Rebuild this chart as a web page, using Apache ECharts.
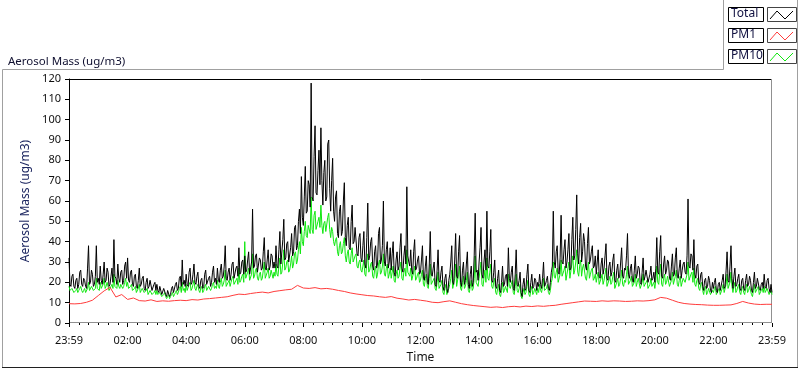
<!DOCTYPE html>
<html>
<head>
<meta charset="utf-8">
<script src="https://cdn.jsdelivr.net/npm/echarts@6/dist/echarts.min.js"></script>
<style>
html,body{margin:0;padding:0;background:#fff;}
#chart{width:800px;height:369px;}
</style>
</head>
<body>
<div id="chart"></div>
<script>
// Time axis: minutes after midnight; Total and PM10 read every 2 minutes (one row = one hour)
const sampleStepMin = 2;
const totalValues = [
32,19,18,23,24,18,17,21,22,17,19,25,26,19,18,22,21,18,17,27,38,19,20,26,24,18,19,23,38,20,
22,19,28,21,19,24,30,20,21,27,25,18,19,23,27,20,41,23,22,19,29,22,20,25,26,19,21,28,30,22,
32,21,20,25,26,19,18,23,24,18,17,21,27,18,19,22,23,17,16,20,22,17,18,21,21,16,16,19,20,16,
19,16,15,18,18,14,14,17,17,14,13,16,16,13,14,17,18,15,15,19,20,16,17,22,23,18,31,19,21,18,
24,19,18,25,27,19,20,24,29,20,19,23,25,18,17,21,22,17,18,24,26,19,19,22,23,18,20,25,28,20,
22,19,27,21,20,26,29,22,23,28,38,22,21,25,27,21,24,29,30,22,22,27,28,23,37,24,25,30,31,24,
33,25,26,31,35,24,24,30,56,27,28,33,34,25,25,32,31,26,27,35,42,27,26,31,36,26,28,34,33,27,
30,27,38,28,27,36,45,29,29,41,51,31,32,39,40,30,30,37,44,33,35,47,48,36,38,50,56,44,72,52,
48,62,77,54,55,70,68,57,118,62,60,82,97,64,63,75,85,68,96,70,58,74,80,60,62,88,90,66,55,70,
81,55,50,62,65,44,42,55,58,43,45,60,69,42,38,48,52,37,36,50,58,39,40,47,47,34,33,42,44,32,
30,38,45,29,27,42,59,31,33,40,42,28,26,35,38,27,29,44,47,29,31,38,60,30,28,36,40,27,30,37,
26,34,40,25,23,31,35,26,28,37,44,27,25,33,38,29,67,33,30,28,36,26,24,35,41,26,27,31,33,24,
25,31,38,22,21,28,33,20,19,29,45,24,23,27,30,19,18,26,36,21,20,25,28,18,16,22,24,17,15,21,
24,30,38,20,19,31,44,23,22,35,43,20,18,26,30,19,21,29,35,19,17,24,28,18,20,33,54,25,26,21,
30,37,47,24,22,30,36,26,55,28,27,35,46,21,20,25,31,18,17,22,26,16,15,20,28,18,19,23,24,18,
37,22,20,25,28,17,16,24,36,19,18,21,25,15,13,19,22,16,17,24,29,16,15,20,24,17,18,22,21,16,
20,18,24,19,17,22,30,18,19,21,23,17,16,20,25,28,55,30,27,35,38,25,24,32,53,30,29,36,41,27,
30,36,44,26,27,41,52,31,33,46,63,34,29,42,49,30,35,44,40,28,26,39,47,29,31,35,38,27,28,33,
24,30,36,23,22,29,32,24,27,33,39,22,21,28,30,23,25,31,34,21,20,26,29,22,23,30,37,23,22,27,
26,33,44,24,22,27,29,21,20,26,33,22,24,28,27,20,19,25,32,21,23,26,26,20,20,24,28,21,22,25,
20,27,42,25,24,35,43,23,22,29,33,24,26,31,30,22,21,28,34,23,24,32,37,23,22,27,31,22,26,29,
30,25,24,33,61,28,27,34,33,26,41,24,22,28,29,20,19,24,25,18,16,21,22,17,18,23,21,16,15,20,
17,20,22,16,15,19,20,16,16,21,24,17,18,26,35,21,20,28,38,22,17,23,27,18,19,22,24,17,16,21,
22,17,16,21,24,18,19,23,21,16,15,20,25,17,18,22,22,17,16,19,20,17,24,18,17,21,22,17,15,19,
15
];
const pm10Values = [
18,16,16,17,17,15,15,16,17,15,16,17,18,16,15,16,17,15,15,17,20,16,16,18,18,16,16,17,22,17,
17,16,20,17,17,19,22,17,18,20,20,16,17,18,19,17,24,18,18,17,21,18,17,19,19,17,18,20,22,18,
20,17,17,18,19,16,16,17,18,15,15,17,19,15,16,17,17,15,15,16,17,14,15,16,16,14,14,15,16,14,
16,14,14,15,15,13,13,14,15,13,12,13,14,12,13,14,15,13,14,15,16,14,15,17,18,15,20,16,17,15,
19,16,16,19,20,16,17,19,21,17,16,18,19,16,15,17,18,15,16,18,19,16,16,18,18,16,17,19,20,17,
18,17,21,18,17,20,22,18,19,21,26,18,18,20,21,18,20,22,23,19,19,21,22,19,27,20,21,23,24,20,
40,22,22,25,27,21,21,24,34,22,23,26,27,22,21,24,25,21,22,26,30,22,22,25,27,22,23,26,26,22,
25,23,29,24,23,28,32,24,25,30,36,26,27,30,31,25,26,29,33,27,29,34,35,29,31,36,40,34,47,40,
38,45,50,43,42,48,48,44,62,46,44,53,55,46,46,50,52,47,58,48,44,49,50,45,45,52,54,46,42,47,
45,40,38,41,42,35,33,38,40,34,35,39,42,33,30,34,36,30,29,34,37,30,30,33,34,28,27,30,31,26,
25,28,31,24,23,30,34,25,26,29,30,23,22,26,28,22,24,29,31,24,25,28,34,24,23,27,29,22,24,27,
22,25,28,21,20,24,26,22,23,27,30,22,21,25,27,23,36,25,24,23,27,21,21,25,28,21,22,24,25,20,
21,24,26,19,18,22,24,18,17,22,29,19,19,21,22,17,16,20,25,17,17,19,21,15,14,17,19,14,14,17,
19,22,26,17,17,22,29,18,18,24,28,17,16,20,23,17,18,21,25,16,15,18,21,16,17,22,33,20,20,18,
22,26,30,19,18,22,26,20,32,22,21,25,29,18,17,20,22,15,14,17,19,14,13,16,20,15,16,18,18,15,
24,18,17,19,21,15,14,18,24,16,15,17,19,13,12,15,17,14,15,18,21,14,13,16,18,14,15,17,17,14,
17,15,19,16,15,18,22,16,16,17,19,15,14,16,20,22,30,23,22,25,27,20,20,24,31,23,23,26,28,21,
24,27,30,22,22,29,33,24,26,30,36,25,23,28,31,23,27,29,29,22,21,26,30,22,24,26,27,21,22,24,
20,23,25,19,19,22,24,19,21,24,27,18,18,21,23,19,20,23,25,17,17,20,22,18,19,22,26,19,18,21,
20,24,28,19,19,21,23,18,18,20,24,18,20,22,22,17,17,20,24,18,19,20,21,17,17,19,22,18,18,20,
17,21,28,20,19,25,29,19,18,22,24,19,20,23,23,18,18,21,25,19,19,23,26,19,18,21,23,18,20,22,
22,20,20,24,30,21,21,24,25,20,27,19,18,21,22,17,16,19,20,16,14,17,18,14,15,17,17,14,14,16,
15,17,18,14,14,16,17,14,14,17,19,15,15,19,24,17,17,20,25,18,15,18,20,15,16,18,19,15,14,17,
18,15,14,17,19,15,16,18,18,14,13,16,19,15,15,17,18,14,14,16,17,15,18,15,15,17,17,14,14,16,
14
];
// PM1 read every 12 minutes
const pm1StepMin = 12;
const pm1Values = [
9.5,9.4,9.6,10.2,11.2,13.5,15.8,17.5,12.8,14.0,
11.6,12.3,11.0,10.8,11.4,10.6,10.9,10.7,11.0,11.2,
11.0,11.5,11.3,11.8,12.0,12.3,12.6,12.9,13.6,14.2,
14.0,14.5,14.9,15.2,14.8,15.5,15.9,16.3,16.6,18.5,
17.2,17.0,17.4,16.8,17.0,16.6,16.0,15.5,14.8,14.3,
13.9,13.5,13.3,12.9,12.6,13.0,12.2,11.8,11.3,11.6,
11.2,10.8,10.2,10.0,10.5,10.9,10.2,9.5,9.0,8.6,
8.3,8.0,7.7,7.9,7.6,8.0,8.2,7.9,8.3,8.1,
8.4,8.2,8.5,8.7,9.2,9.6,10.0,10.4,10.8,10.7,
10.6,10.9,10.7,10.9,10.8,10.6,10.7,10.9,10.8,11.0,
11.4,12.6,12.2,11.2,10.2,9.6,9.3,9.1,9.0,8.8,
8.7,8.7,8.8,8.9,9.6,10.6,9.8,9.3,9.1,9.2,
9.2
];
const xTickLabels = ['23:59','02:00','04:00','06:00','08:00','10:00','12:00','14:00','16:00','18:00','20:00','22:00','23:59'];
const legendNames = ['Total','PM1','PM10'];
const seriesColors = ['#000000','#ff3c3c','#10e810'];

const toPairs = (vals, step) => vals.map((v,i) => [i*step, v]);

const chart = echarts.init(document.getElementById('chart'), null, {renderer:'canvas'});
const font = 'Noto Sans';

const legendGraphics = [];
const rowTops = [7, 28, 49];
legendNames.forEach((name, k) => {
  const top = rowTops[k];
  legendGraphics.push({type:'rect', shape:{x:728.5,y:top+0.5,width:35,height:14}, style:{fill:'#fff',stroke:'#000',lineWidth:1}, silent:true});
  legendGraphics.push({type:'text', x:731, y:top+1, style:{text:name, font:'12px ' + font, fill:'#101040'}, silent:true});
  legendGraphics.push({type:'rect', shape:{x:767.5,y:top+0.5,width:29,height:14}, style:{fill:'#fff',stroke:'#444',lineWidth:1}, silent:true});
  legendGraphics.push({type:'polyline', shape:{points:[[770,top+12],[777,top+4],[785,top+12],[793,top+4]]}, style:{stroke:seriesColors[k],lineWidth:1,fill:null}, silent:true});
});

const frameGraphics = [
  {type:'polyline', shape:{points:[[2.5,368],[2.5,69.5],[723.5,69.5],[723.5,0]]}, style:{stroke:'#a0a0a0',lineWidth:1,fill:null}, silent:true},
  {type:'line', shape:{x1:797.5,y1:0,x2:797.5,y2:368}, style:{stroke:'#a0a0a0',lineWidth:1}, silent:true},
  {type:'line', shape:{x1:2,y1:367.5,x2:798,y2:367.5}, style:{stroke:'#202020',lineWidth:1}, silent:true},
  {type:'line', shape:{x1:69,y1:79.5,x2:772,y2:79.5}, style:{stroke:'#000',lineWidth:1}, silent:true},
  {type:'line', shape:{x1:771.5,y1:79,x2:771.5,y2:323}, style:{stroke:'#909090',lineWidth:1}, silent:true},
  {type:'line', shape:{x1:69,y1:322.5,x2:772,y2:322.5}, style:{stroke:'#909090',lineWidth:1}, silent:true}
];

chart.setOption({
  animation:false,
  backgroundColor:'#ffffff',
  title:{text:'Aerosol Mass (ug/m3)', left:3, top:51, textStyle:{fontFamily:font, fontSize:11.5, fontWeight:'normal', color:'#101030'}},
  grid:{left:69, right:28, top:79, bottom:40, containLabel:false},
  xAxis:{
    type:'value', min:0, max:1440, interval:120, offset:3,
    name:'Time', nameLocation:'middle', nameGap:26,
    nameTextStyle:{fontFamily:font, fontSize:12, color:'#101010'},
    axisLine:{show:false},
    axisTick:{show:true, length:4, lineStyle:{color:'#000'}},
    minorTick:{show:true, splitNumber:6, length:2, lineStyle:{color:'#000'}},
    splitLine:{show:false},
    axisLabel:{fontFamily:font, fontSize:11, color:'#101010', margin:9,
      formatter:(v)=> xTickLabels[Math.round(v/120)]}
  },
  yAxis:{
    type:'value', min:0, max:120, interval:10,
    name:'Aerosol Mass (ug/m3)', nameLocation:'middle', nameGap:30,
    nameTextStyle:{fontFamily:font, fontSize:12, color:'#1c2660'},
    axisLine:{show:true, lineStyle:{color:'#000', width:1}},
    axisTick:{show:true, length:4, lineStyle:{color:'#000'}},
    splitLine:{show:false},
    axisLabel:{fontFamily:font, fontSize:11, color:'#101010', margin:8}
  },
  graphic:legendGraphics.concat(frameGraphics),
  series:[
    {name:legendNames[2], type:'line', data:toPairs(pm10Values, sampleStepMin), showSymbol:false, sampling:null,
      lineStyle:{color:seriesColors[2], width:1}, itemStyle:{color:seriesColors[2]}, z:2},
    {name:legendNames[1], type:'line', data:toPairs(pm1Values, pm1StepMin), showSymbol:false,
      lineStyle:{color:seriesColors[1], width:1}, itemStyle:{color:seriesColors[1]}, z:3},
    {name:legendNames[0], type:'line', data:toPairs(totalValues, sampleStepMin), showSymbol:false, sampling:null,
      lineStyle:{color:seriesColors[0], width:1}, itemStyle:{color:seriesColors[0]}, z:4}
  ]
});
</script>
</body>
</html>
